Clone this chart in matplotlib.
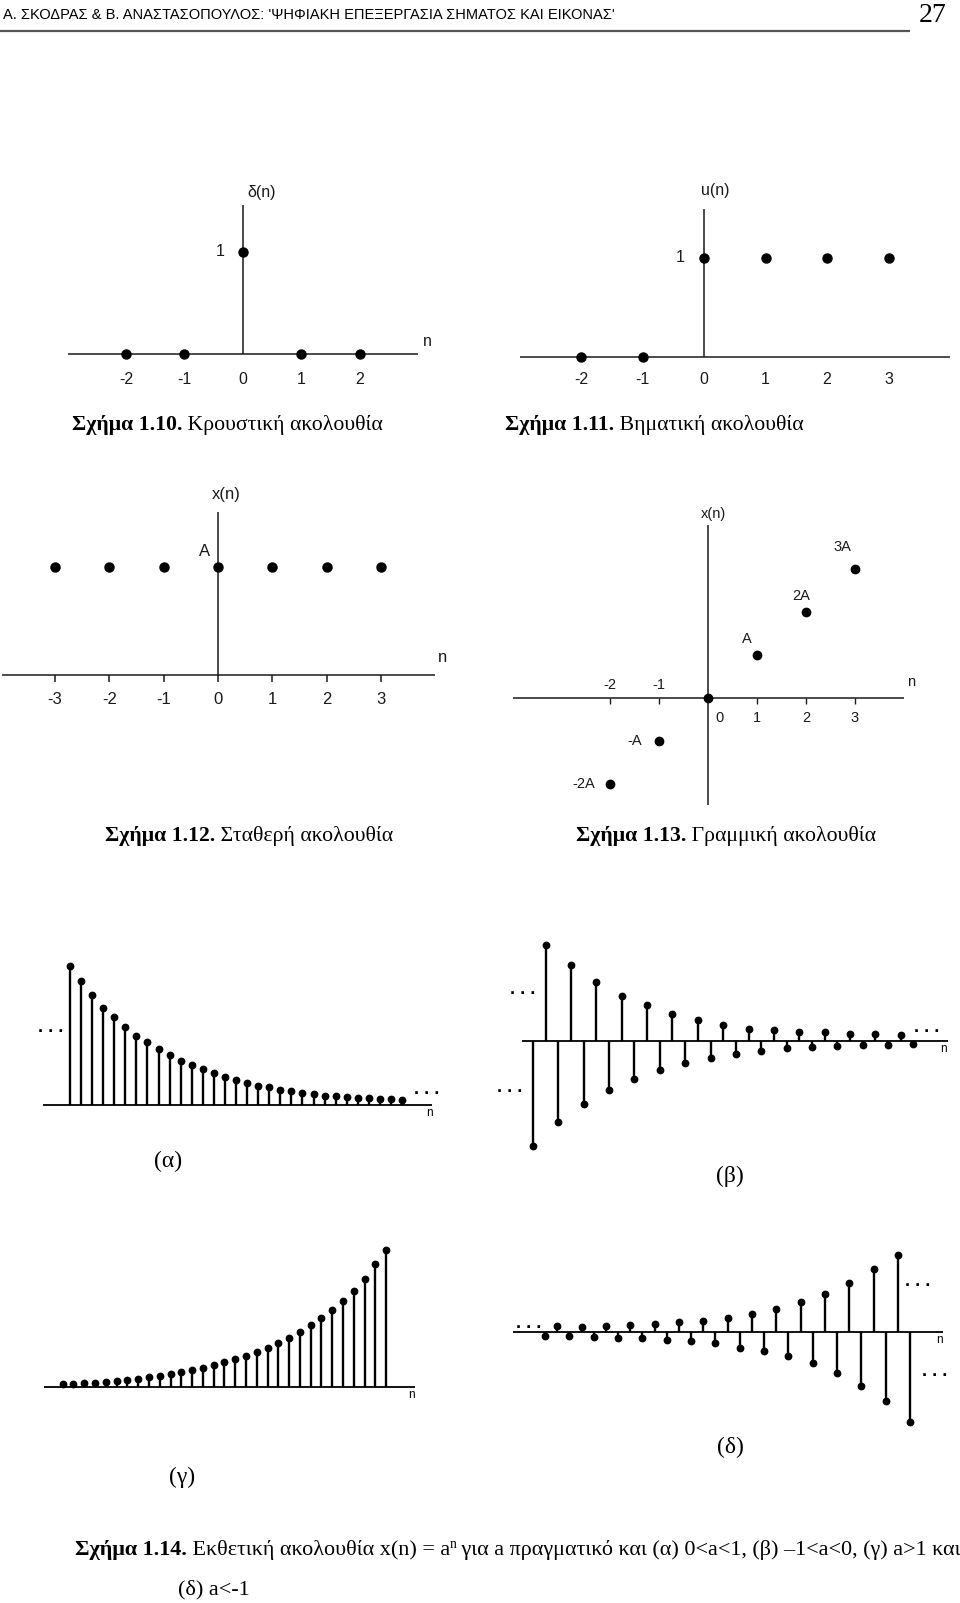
import matplotlib
matplotlib.use("Agg")
import matplotlib.pyplot as plt
import numpy as np

W, H = 960, 1603

# --- data ---
delta_n = [-2, -1, 0, 1, 2]
delta_v = [0, 0, 1, 0, 0]
step_n = [-2, -1, 0, 1, 2, 3]
step_v = [0, 0, 1, 1, 1, 1]
const_n = [-3, -2, -1, 0, 1, 2, 3]
const_v = [1, 1, 1, 1, 1, 1, 1]
lin_n = [-2, -1, 0, 1, 2, 3]
lin_v = [-2, -1, 0, 1, 2, 3]
lin_labels = ['-2A', '-A', '', 'A', '2A', '3A']

alpha_v = [1.00, 0.89, 0.79, 0.70, 0.63, 0.56, 0.50, 0.45, 0.40, 0.36, 0.32,
           0.29, 0.26, 0.23, 0.20, 0.18, 0.16, 0.14, 0.13, 0.11, 0.10, 0.086,
           0.077, 0.067, 0.062, 0.058, 0.053, 0.048, 0.043, 0.041, 0.036]
beta_v = [-1.00, 0.91, -0.77, 0.72, -0.60, 0.56, -0.47, 0.43, -0.36, 0.34,
          -0.28, 0.26, -0.21, 0.20, -0.16, 0.15, -0.12, 0.11, -0.095, 0.10,
          -0.07, 0.085, -0.057, 0.082, -0.044, 0.066, -0.035, 0.07, -0.035,
          0.06, -0.025]
gamma_v = [0.017, 0.022, 0.024, 0.029, 0.032, 0.039, 0.046, 0.056, 0.068,
           0.078, 0.09, 0.105, 0.12, 0.136, 0.156, 0.178, 0.2, 0.224, 0.253,
           0.285, 0.316, 0.358, 0.4, 0.448, 0.5, 0.56, 0.628, 0.698, 0.786,
           0.898, 1.0]
delta4_v = [-0.047, 0.059, -0.05, 0.056, -0.063, 0.067, -0.073, 0.07, -0.075,
            0.081, -0.089, 0.104, -0.10, 0.122, -0.13, 0.156, -0.18, 0.193,
            -0.21, 0.248, -0.27, 0.326, -0.35, 0.419, -0.46, 0.54, -0.60, 0.70,
            -0.77, 0.85, -1.0]

SANS = 'Liberation Sans'
SERIF = 'Liberation Serif'
INK = '#1a1a1a'

fig = plt.figure(figsize=(W / 100, H / 100), dpi=100)
fig.patch.set_facecolor('white')

# page-level axes in pixel coords (origin top-left)
bg = fig.add_axes([0, 0, 1, 1])
bg.set_xlim(0, W)
bg.set_ylim(H, 0)
bg.axis('off')
bg.patch.set_visible(False)


def panel(origin, unit, box):
    ox, oy = origin
    sx, sy = unit
    l, t, r, b = box
    ax = fig.add_axes([l / W, 1 - b / H, (r - l) / W, (b - t) / H])
    ax.set_xlim((l - ox) / sx, (r - ox) / sx)
    ax.set_ylim((oy - b) / sy, (oy - t) / sy)
    ax.axis('off')
    ax.patch.set_visible(False)
    return ax


def lab(ax, s, xy, off, size=11.5, **kw):
    ax.annotate(s, xy, xytext=off, textcoords='offset pixels', ha='center',
                va='center', fontsize=size, family=SANS, color=INK,
                annotation_clip=False, **kw)


def caption(x, y, bold, rest, size=15.7):
    t = bg.text(x, y, bold, fontsize=size, family=SERIF, weight='bold',
                ha='left', va='center', color='black')
    bg.annotate(rest, xy=(1, 0), xycoords=t, fontsize=size, family=SERIF,
                ha='left', va='bottom', color='black')
    return t


# header
bg.text(3, 15, "Α. ΣΚΟΔΡΑΣ & Β. ΑΝΑΣΤΑΣΟΠΟΥΛΟΣ: 'ΨΗΦΙΑΚΗ ΕΠΕΞΕΡΓΑΣΙΑ ΣΗΜΑΤΟΣ ΚΑΙ ΕΙΚΟΝΑΣ'",
        fontsize=10.5, family=SANS, ha='left', va='center')
bg.text(947, 16, '27', fontsize=20, family=SERIF, ha='right', va='center')
bg.hlines(31, 0, 910, color='#555555', lw=1.6)

# Fig 1.10 - impulse
ax = panel((243, 354), (58.5, 102), (30, 170, 460, 400))
ax.hlines(0, -2.99, 2.99, color=INK, lw=1.1)
ax.vlines(0, 0, 1.46, color=INK, lw=1.1)
ax.plot(delta_n, delta_v, 'o', color='black', ms=6.5)
for n in delta_n:
    lab(ax, str(n), (n, 0), (0, -25))
lab(ax, '1', (0, 1), (-23, 0))
lab(ax, 'δ(n)', (0, 1.46), (19, 13))
lab(ax, 'n', (2.99, 0), (9, 13))
caption(72, 425, 'Σχήμα 1.10.', ' Κρουστική ακολουθία')

# Fig 1.11 - unit step
ax = panel((704, 357), (61.5, 99), (500, 170, 960, 400))
ax.hlines(0, -2.99, 4.0, color=INK, lw=1.1)
ax.vlines(0, 0, 1.5, color=INK, lw=1.1)
ax.plot(step_n, step_v, 'o', color='black', ms=6.5)
for n in step_n:
    lab(ax, str(n), (n, 0), (0, -23))
lab(ax, '1', (0, 1), (-24, 0))
lab(ax, 'u(n)', (0, 1.5), (11, 18))
caption(505, 425, 'Σχήμα 1.11.', ' Βηματική ακολουθία')

# Fig 1.12 - constant
ax = panel((218, 675), (54.3, 108), (0, 480, 470, 720))
ax.hlines(0, -3.98, 4.0, color=INK, lw=1.1)
ax.vlines(0, 0, 1.51, color=INK, lw=1.1)
ax.vlines(const_n, -0.065, 0, color=INK, lw=1.1)
ax.plot(const_n, const_v, 'o', color='black', ms=6.5)
for n in const_n:
    lab(ax, str(n), (n, 0), (0, -25), size=12)
lab(ax, 'A', (0, 1), (-13, 15), size=12)
lab(ax, 'x(n)', (0, 1.51), (8, 17), size=12)
lab(ax, 'n', (4.0, 0), (7, 17), size=12)
caption(105, 836, 'Σχήμα 1.12.', ' Σταθερή ακολουθία')

# Fig 1.13 - linear
ax = panel((708, 698), (49, 43), (500, 490, 960, 820))
ax.hlines(0, -3.98, 4.0, color=INK, lw=1.1)
ax.vlines(0, -2.49, 4.02, color=INK, lw=1.1)
ax.vlines([n for n in lin_n if n != 0], -0.14, 0, color=INK, lw=1.0)
ax.plot(lin_n, lin_v, 'o', color='black', ms=6)
for n in lin_n:
    if n < 0:
        lab(ax, str(n), (n, 0), (0, 13), size=10.5)
    elif n == 0:
        lab(ax, '0', (n, 0), (12, -20), size=10.5)
    else:
        lab(ax, str(n), (n, 0), (0, -20), size=10.5)
lab_off = {-2: (-26, 0), -1: (-24, 0), 1: (-10, 16), 2: (-5, 16), 3: (-13, 22)}
for n, v, s in zip(lin_n, lin_v, lin_labels):
    if s:
        lab(ax, s, (n, v), lab_off[n], size=10.5)
lab(ax, 'x(n)', (0, 4.02), (5, 11), size=10.5)
lab(ax, 'n', (4.0, 0), (7, 16), size=10.5)
caption(576, 836, 'Σχήμα 1.13.', ' Γραμμική ακολουθία')


def stems(ax, vals, x0, x1):
    n = np.arange(len(vals))
    ax.hlines(0, x0, x1, color='black', lw=1.3)
    ax.vlines(n, 0, vals, color='black', lw=1.7)
    ax.plot(n, vals, 'o', color='black', ms=4.6)


def dots(x, y):
    bg.text(x, y, '. . .', fontsize=13, weight='bold', family=SANS,
            ha='center', va='center')


def nlab(x, y):
    bg.text(x, y, 'n', fontsize=8.5, family=SANS, ha='center', va='center')


# Fig 1.14 (alpha) 0<a<1
ax = panel((70, 1105), (11.07, 139), (30, 930, 450, 1130))
stems(ax, alpha_v, -2.44, 32.7)
dots(51, 1028)
dots(427, 1090)
nlab(429, 1113)
bg.text(168, 1161, '(α)', fontsize=17, family=SERIF, ha='center', va='center')

# (beta) -1<a<0
ax = panel((533, 1041), (12.68, 105.3), (490, 930, 960, 1160))
stems(ax, beta_v, -0.87, 32.7)
dots(523, 990)
dots(510, 1087)
dots(927, 1028)
nlab(943, 1049)
bg.text(730, 1176, '(β)', fontsize=17, family=SERIF, ha='center', va='center')

# (gamma) a>1
ax = panel((62.7, 1386.7), (10.78, 137), (30, 1230, 450, 1410))
stems(ax, gamma_v, -1.73, 32.7)
nlab(411, 1395)
bg.text(182, 1477, '(γ)', fontsize=17, family=SERIF, ha='center', va='center')

# (delta) a<-1
ax = panel((545, 1331.7), (12.17, 90), (480, 1230, 960, 1430))
stems(ax, delta4_v, -2.63, 32.7)
dots(529, 1323)
dots(918, 1282)
dots(935, 1372)
nlab(939, 1340)
bg.text(730, 1447, '(δ)', fontsize=17, family=SERIF, ha='center', va='center')

# Fig 1.14 caption with superscript
cs = 15.9
t1 = bg.text(75, 1550, 'Σχήμα 1.14.', fontsize=cs, family=SERIF, weight='bold',
             ha='left', va='center')
t2 = bg.annotate(' Εκθετική ακολουθία x(n) = a', xy=(1, 0), xycoords=t1,
                 fontsize=cs, family=SERIF, ha='left', va='bottom')
t3 = bg.annotate('n', xy=(1, 0.45), xycoords=t2, fontsize=cs * 0.62,
                 family=SERIF, ha='left', va='bottom')
bg.annotate(' για a πραγματικό και (α) 0<a<1, (β) –1<a<0, (γ) a>1 και',
            xy=(1, 0), xycoords=t2, xytext=(6, 0), textcoords='offset pixels',
            fontsize=cs, family=SERIF, ha='left', va='bottom')
bg.text(178, 1590, '(δ) a<-1', fontsize=cs, family=SERIF, ha='left', va='center')

fig.savefig('out.png', dpi=100, facecolor='white')
